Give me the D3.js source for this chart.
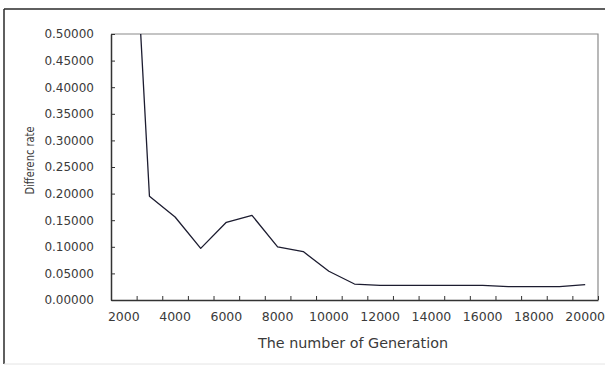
<!DOCTYPE html>
<html>
<head>
<meta charset="utf-8">
<script src="https://cdn.jsdelivr.net/npm/d3@7"></script>
<style>
  html, body { margin: 0; padding: 0; background: #fff; }
  svg text { font-family: "DejaVu Sans", sans-serif; fill: #3a3a3a; }
</style>
</head>
<body>
<svg id="chart" width="605" height="368"></svg>
<script>
// data
var generations = [2000, 3000, 4000, 5000, 6000, 7000, 8000, 9000, 10000, 11000,
                   12000, 13000, 14000, 15000, 16000, 17000, 18000, 19000, 20000];
var diffRate = [1.09, 0.195, 0.156, 0.097, 0.146, 0.159, 0.100, 0.091, 0.054, 0.030,
                0.0275, 0.0275, 0.0275, 0.0275, 0.0275, 0.025, 0.025, 0.025, 0.029];
var yTicks = [0, 0.05, 0.10, 0.15, 0.20, 0.25, 0.30, 0.35, 0.40, 0.45, 0.50];
var xLabels = [2000, 4000, 6000, 8000, 10000, 12000, 14000, 16000, 18000, 20000];

var svg = d3.select("#chart");
var plotLeft = 111, plotRight = 598, plotTop = 34, plotBottom = 300;

//outer chart frame
svg.append("line").attr("x1", 4).attr("x2", 605).attr("y1", 9).attr("y2", 9)
    .attr("stroke", "#2a2a2a").attr("stroke-width", 1.5);
svg.append("line").attr("x1", 4).attr("x2", 4).attr("y1", 9).attr("y2", 364)
    .attr("stroke", "#2a2a2a").attr("stroke-width", 1.5);
svg.append("line").attr("x1", 4).attr("x2", 605).attr("y1", 364).attr("y2", 364)
    .attr("stroke", "#e4e4e4").attr("stroke-width", 1);

//scales
var x = d3.scaleBand().domain(generations).range([plotLeft, plotRight]).padding(0);
var xi = d3.scaleLinear().domain([0, generations.length]).range([plotLeft, plotRight]);
var y = d3.scaleLinear().domain([0, 0.5]).range([plotBottom, plotTop]);

//plot area border (top and right, grey)
svg.append("path")
    .attr("d", "M" + plotLeft + "," + plotTop + "H" + plotRight + "V" + plotBottom)
    .attr("fill", "none").attr("stroke", "#8a8a8a").attr("stroke-width", 1.2);

//clip for the line
svg.append("clipPath").attr("id", "plotClip")
  .append("rect").attr("x", plotLeft).attr("y", plotTop)
    .attr("width", plotRight - plotLeft).attr("height", plotBottom - plotTop);

var line = d3.line()
    .x(function(d, i) { return x(generations[i]) + x.bandwidth() / 2; })
    .y(function(d) { return y(d); });

svg.append("path")
    .datum(diffRate)
    .attr("clip-path", "url(#plotClip)")
    .attr("d", line)
    .attr("fill", "none")
    .attr("stroke", "#1c1c30")
    .attr("stroke-width", 1.3)
    .attr("stroke-linejoin", "round");

//y axis
var yAxis = svg.append("g")
    .attr("transform", "translate(" + plotLeft + ",0)")
    .call(d3.axisLeft(y).tickValues(yTicks).tickFormat(d3.format(".5f"))
        .tickSizeInner(-4).tickSizeOuter(0).tickPadding(17));
yAxis.select(".domain").attr("stroke", "#333").attr("stroke-width", 1.5);
yAxis.selectAll(".tick line").attr("stroke", "#333");
yAxis.selectAll("text").attr("font-size", 12).attr("fill", "#3a3a3a")
    .style("font-family", "DejaVu Sans");

//x axis: tick marks at category boundaries
var xTickAxis = svg.append("g")
    .attr("transform", "translate(0," + plotBottom + ")")
    .call(d3.axisBottom(xi).tickValues(d3.range(1, generations.length + 1))
        .tickFormat("").tickSizeInner(-4).tickSizeOuter(0));
xTickAxis.select(".domain").attr("stroke", "#333").attr("stroke-width", 1.5);
xTickAxis.selectAll(".tick line").attr("stroke", "#333");

//x axis: labels at every other category
var xLabelAxis = svg.append("g")
    .attr("transform", "translate(0," + plotBottom + ")")
    .call(d3.axisBottom(x).tickValues(xLabels).tickSize(0).tickPadding(12));
xLabelAxis.select(".domain").remove();
xLabelAxis.selectAll("text").attr("font-size", 12.5).attr("fill", "#3a3a3a")
    .style("font-family", "DejaVu Sans");

//axis titles
svg.append("text")
    .attr("x", 353).attr("y", 348)
    .attr("text-anchor", "middle")
    .attr("font-size", 14)
    .attr("textLength", 190).attr("lengthAdjust", "spacingAndGlyphs")
    .text("The number of Generation");

svg.append("text")
    .attr("transform", "translate(34,160.5) rotate(-90)")
    .attr("text-anchor", "middle")
    .attr("font-size", 13)
    .attr("textLength", 68).attr("lengthAdjust", "spacingAndGlyphs")
    .text("Differenc rate");
</script>
</body>
</html>
